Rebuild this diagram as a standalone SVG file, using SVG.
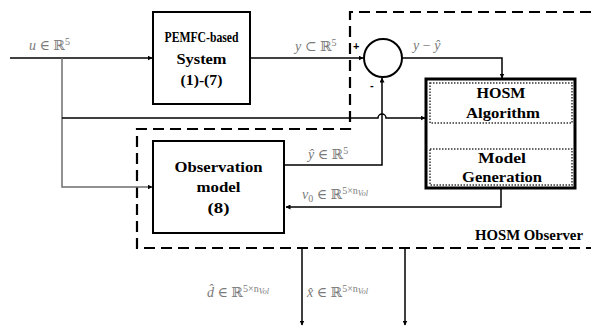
<svg xmlns="http://www.w3.org/2000/svg" width="591" height="327" viewBox="0 0 591 327">
<defs>
<style>
.box{fill:#fff;stroke:#000;stroke-width:2}
.thick{fill:#fff;stroke:#000;stroke-width:3}
.dot{fill:none;stroke:#333;stroke-width:1.5;stroke-dasharray:1.5 1.5}
.ln{fill:none;stroke:#000;stroke-width:1.5}
.gl{fill:none;stroke:#6e6e6e;stroke-width:1.5}
.dash{fill:none;stroke:#000;stroke-width:2.2;stroke-dasharray:11 6}
.bt{font-family:"Liberation Serif","DejaVu Serif",serif;font-weight:bold;font-size:14px;fill:#000;text-anchor:middle}
.m{font-family:"Liberation Serif","DejaVu Serif",serif;font-style:italic;font-size:14px;fill:#7a7a7a}
.r{font-style:normal}
.s{font-size:10px}
.ss{font-size:8px}
.sg{font-family:"Liberation Sans",sans-serif;font-weight:bold;font-size:11px;fill:#000}
</style>
<marker id="ah" viewBox="0 0 10 10" refX="9" refY="5" markerWidth="5" markerHeight="5" orient="auto-start-reverse" markerUnits="userSpaceOnUse">
<path d="M0,0 L10,5 L0,10 z" fill="#000"/>
</marker>
</defs>
<rect width="591" height="327" fill="#fff"/>

<g id="observer-boundary">
<path class="dash" d="M591,12 H350 V129 H137 V248 H591"/>
<text class="bt" x="529" y="240" font-size="13" textLength="108" lengthAdjust="spacingAndGlyphs">HOSM Observer</text>
</g>

<g id="connectors">
<path class="ln" d="M10,58 H152" marker-end="url(#ah)"/>
<path class="gl" d="M62,58 V187 H152" marker-end="url(#ah)"/>
<path class="ln" d="M62,118 H378 A4,4 0 0 1 386,118 H425" marker-end="url(#ah)"/>
<path class="ln" d="M250,58 H363" marker-end="url(#ah)"/>
<path class="ln" d="M402,58 H502 V78" marker-end="url(#ah)"/>
<path class="ln" d="M284,165 H382 V78" marker-end="url(#ah)"/>
<path class="ln" d="M501,189 V207 H286" marker-end="url(#ah)"/>
<path class="ln" d="M501,125 V147" marker-start="url(#ah)" marker-end="url(#ah)"/>
<path class="ln" d="M302,248 V325" marker-end="url(#ah)"/>
<path class="ln" d="M405,248 V325" marker-end="url(#ah)"/>
<text class="m" x="29" y="50">u <tspan class="r">∈ ℝ</tspan><tspan class="r s" dy="-5">5</tspan></text>
<text class="m" x="295" y="51">y <tspan class="r">⊂ ℝ</tspan><tspan class="r s" dy="-5">5</tspan></text>
<text class="m" x="413" y="50">y <tspan class="r">−</tspan> ŷ</text>
<text class="m" x="308" y="159">ŷ <tspan class="r">∈ ℝ</tspan><tspan class="r s" dy="-5">5</tspan></text>
<text class="m" x="302" y="199">v<tspan class="r s" dy="3">0</tspan><tspan class="r" dy="-3"> ∈ ℝ</tspan><tspan class="r s" dy="-5">5×n</tspan><tspan class="ss" dy="2">Vol</tspan></text>
<text class="m" x="207" y="297">d̂ <tspan class="r">∈ ℝ</tspan><tspan class="r s" dy="-5">5×n</tspan><tspan class="ss" dy="2">Vol</tspan></text>
<text class="m" x="307" y="297">x̂ <tspan class="r">∈ ℝ</tspan><tspan class="r s" dy="-5">5×n</tspan><tspan class="ss" dy="2">Vol</tspan></text>
<text class="sg" x="353" y="50">+</text>
<text class="sg" x="370" y="89">-</text>
</g>

<g id="pemfc">
<rect class="box" x="153" y="12" width="97" height="92"/>
<text class="bt" x="201.5" y="42" textLength="74" lengthAdjust="spacingAndGlyphs">PEMFC-based</text>
<text class="bt" x="201.5" y="64" textLength="50" lengthAdjust="spacingAndGlyphs">System</text>
<text class="bt" x="201.5" y="85" textLength="42" lengthAdjust="spacingAndGlyphs">(1)-(7)</text>
</g>

<g id="sum">
<circle cx="383" cy="58" r="19" fill="#fff" stroke="#000" stroke-width="2"/>
</g>

<g id="obs-model">
<rect class="box" x="153" y="141" width="131" height="92"/>
<text class="bt" x="218.5" y="172" textLength="88" lengthAdjust="spacingAndGlyphs">Observation</text>
<text class="bt" x="218.5" y="192" textLength="44" lengthAdjust="spacingAndGlyphs">model</text>
<text class="bt" x="218.5" y="213" textLength="22" lengthAdjust="spacingAndGlyphs">(8)</text>
</g>

<g id="hosm">
<rect class="thick" x="426" y="79" width="149" height="109"/>
<rect class="dot" x="430" y="83" width="142" height="40"/>
<rect class="dot" x="430" y="149" width="142" height="36"/>
<text class="bt" x="501" y="98" textLength="49" lengthAdjust="spacingAndGlyphs">HOSM</text>
<text class="bt" x="503" y="118" textLength="74" lengthAdjust="spacingAndGlyphs">Algorithm</text>
<text class="bt" x="502" y="163" textLength="48" lengthAdjust="spacingAndGlyphs">Model</text>
<text class="bt" x="502" y="182" textLength="80" lengthAdjust="spacingAndGlyphs">Generation</text>
</g>
</svg>
